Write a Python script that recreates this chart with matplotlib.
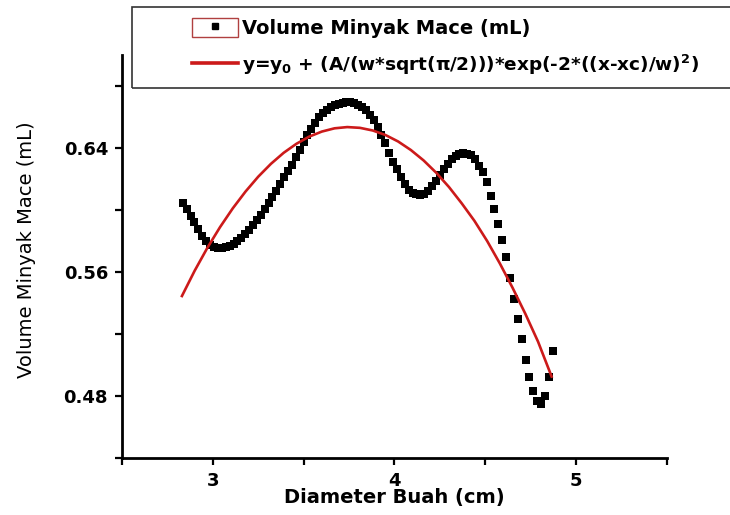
import matplotlib
matplotlib.use("Agg")
import matplotlib.pyplot as plt
from matplotlib.lines import Line2D
from matplotlib.patches import Rectangle
from matplotlib.ticker import FixedLocator

plt.rcParams["font.family"] = ["DejaVu Sans"]
plt.rcParams["mathtext.fontset"] = "dejavusans"

# measured data (black squares)
diameter = [2.835, 2.856, 2.878, 2.899, 2.921, 2.942, 2.964, 2.985, 3.007, 3.028,
            3.049, 3.071, 3.092, 3.114, 3.135, 3.157, 3.178, 3.199, 3.221, 3.242,
            3.264, 3.285, 3.307, 3.328, 3.350, 3.371, 3.392, 3.414, 3.435, 3.457,
            3.478, 3.500, 3.521, 3.543, 3.564, 3.585, 3.607, 3.628, 3.650, 3.671,
            3.693, 3.714, 3.735, 3.757, 3.778, 3.800, 3.821, 3.843, 3.864, 3.886,
            3.907, 3.928, 3.950, 3.971, 3.993, 4.014, 4.036, 4.057, 4.079, 4.100,
            4.121, 4.143, 4.164, 4.186, 4.207, 4.229, 4.250, 4.271, 4.293, 4.314,
            4.336, 4.357, 4.379, 4.400, 4.421, 4.443, 4.464, 4.486, 4.507, 4.529,
            4.550, 4.572, 4.593, 4.614, 4.636, 4.657, 4.679, 4.700, 4.722, 4.743,
            4.764, 4.786, 4.807, 4.829, 4.850, 4.872]
volume = [0.6045, 0.6004, 0.5962, 0.5920, 0.5877, 0.5835, 0.5799, 0.5774, 0.5761, 0.5757,
          0.5756, 0.5759, 0.5766, 0.5781, 0.5799, 0.5821, 0.5846, 0.5874, 0.5904, 0.5934,
          0.5965, 0.6005, 0.6046, 0.6085, 0.6125, 0.6166, 0.6210, 0.6252, 0.6293, 0.6339,
          0.6390, 0.6436, 0.6483, 0.6525, 0.6564, 0.6600, 0.6626, 0.6648, 0.6663, 0.6677,
          0.6686, 0.6692, 0.6695, 0.6694, 0.6691, 0.6679, 0.6664, 0.6643, 0.6615, 0.6581,
          0.6538, 0.6486, 0.6430, 0.6368, 0.6311, 0.6262, 0.6212, 0.6165, 0.6130, 0.6110,
          0.6100, 0.6099, 0.6105, 0.6125, 0.6154, 0.6190, 0.6228, 0.6263, 0.6298, 0.6326,
          0.6348, 0.6361, 0.6367, 0.6363, 0.6352, 0.6330, 0.6286, 0.6245, 0.6181, 0.6090,
          0.6006, 0.5910, 0.5806, 0.5697, 0.5561, 0.5426, 0.5297, 0.5168, 0.5032, 0.4923,
          0.4832, 0.4768, 0.4748, 0.4800, 0.4923, 0.5090]

# gaussian fit curve (red)
fit_x = [2.83, 2.90, 2.97, 3.04, 3.11, 3.18, 3.25, 3.32, 3.39, 3.46,
         3.53, 3.60, 3.67, 3.74, 3.81, 3.88, 3.95, 4.02, 4.09, 4.16,
         4.23, 4.30, 4.37, 4.44, 4.51, 4.58, 4.65, 4.72, 4.79, 4.865]
fit_y = [0.5445, 0.5608, 0.5756, 0.5890, 0.6011, 0.6119, 0.6215, 0.6298, 0.6369, 0.6427,
         0.6473, 0.6506, 0.6527, 0.6535, 0.6530, 0.6513, 0.6484, 0.6442, 0.6387, 0.6320,
         0.6240, 0.6148, 0.6043, 0.5930, 0.5800, 0.5655, 0.5498, 0.5331, 0.5151, 0.4925]

RED = "#cc1a1a"

fig = plt.figure(figsize=(7.3, 5.15), dpi=100)
ax = fig.add_axes([0.1671, 0.1107, 0.7466, 0.7825])

ax.plot(diameter, volume, ls="none", marker="s", markersize=5.2,
        color="black", markeredgewidth=0)
ax.plot(fit_x, fit_y, color=RED, lw=1.9)

ax.set_xlim(2.5, 5.5)
ax.set_ylim(0.44, 0.70)
ax.xaxis.set_major_locator(FixedLocator([3, 4, 5]))
ax.xaxis.set_minor_locator(FixedLocator([2.5, 3.5, 4.5, 5.5]))
ax.yaxis.set_major_locator(FixedLocator([0.48, 0.56, 0.64]))
ax.yaxis.set_minor_locator(FixedLocator([0.44, 0.52, 0.60, 0.68]))
ax.set_xticklabels(["3", "4", "5"])
ax.set_yticklabels(["0.48", "0.56", "0.64"])

for s in ["top", "right"]:
    ax.spines[s].set_visible(False)
for s in ["left", "bottom"]:
    ax.spines[s].set_linewidth(2)
ax.tick_params(which="major", length=5, width=1.6, labelsize=13, pad=5)
ax.tick_params(which="minor", length=5, width=1.6)
for lab in ax.get_xticklabels() + ax.get_yticklabels():
    lab.set_fontweight("bold")

ax.set_xlabel("Diameter Buah (cm)", fontsize=14, fontweight="bold")
ax.xaxis.set_label_coords(0.5, -0.075)
ax.set_ylabel("Volume Minyak Mace (mL)", fontsize=14)
ax.yaxis.set_label_coords(-0.157, 0.516)

# legend frame, runs off the right edge like the original
fig.add_artist(Rectangle((132 / 730, 1 - 88 / 515), 0.85, 81 / 515,
                         transform=fig.transFigure, fill=False,
                         edgecolor="#333333", lw=1.2))

box = Rectangle((0, 0), 1, 1, facecolor="white", edgecolor="#b04040", lw=1)
sq = Line2D([], [], ls="none", marker="s", color="black", markersize=4)
ln = Line2D([], [], color=RED, lw=2.6)
labels = ["Volume Minyak Mace (mL)",
          r"y=y$_\mathbf{0}$ + (A/(w*sqrt(π/2)))*exp(-2*((x-xc)/w)$^\mathbf{2}$)"]
leg = fig.legend([(box, sq), ln], labels, loc="upper left",
                 bbox_to_anchor=(192 / 730, 1 - 18 / 515), frameon=False,
                 borderpad=0, borderaxespad=0, handlelength=2.35, handleheight=1.1,
                 handletextpad=0.2, labelspacing=0.75,
                 prop={"size": 14, "weight": "bold"})
leg.get_texts()[1].set_fontsize(13.3)

fig.savefig("out.png", dpi=100)
